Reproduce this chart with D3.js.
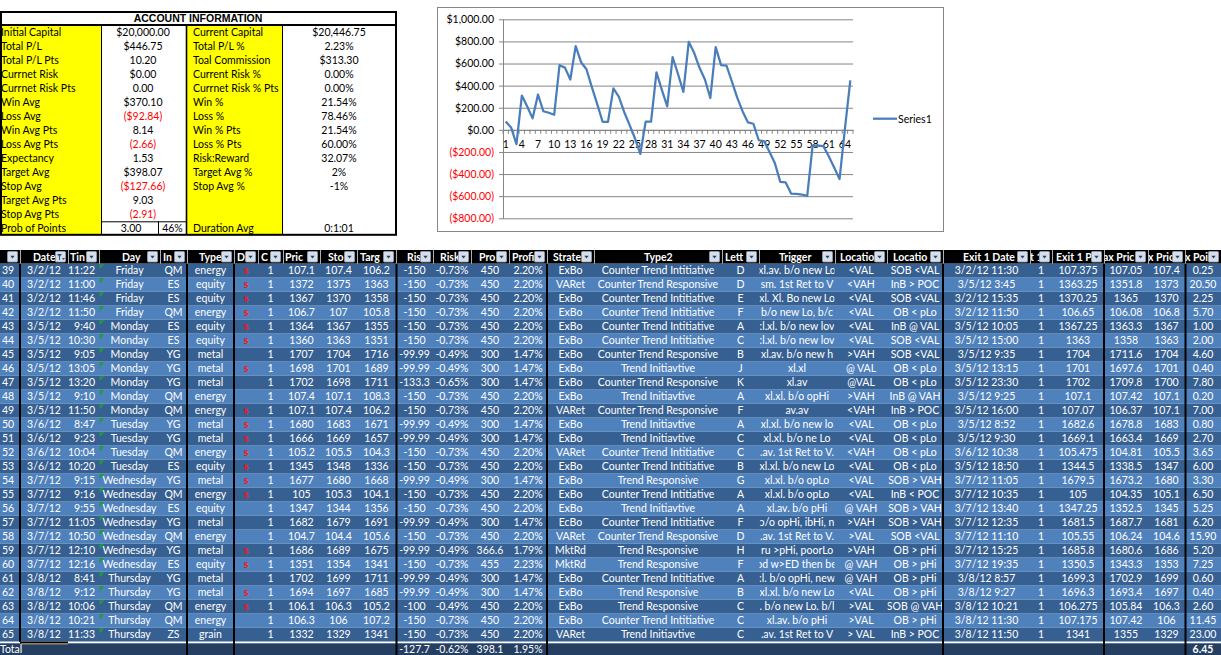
<!DOCTYPE html>
<html><head><meta charset="utf-8">
<script src="https://cdn.jsdelivr.net/npm/d3@7/dist/d3.min.js"></script>
<style>
html,body{margin:0;padding:0;background:#fff;overflow:hidden}
svg{display:block}
</style></head><body>
<svg id="c" width="1221" height="655"></svg>
<script>
// ================= DATA =================
const accTitle = "ACCOUNT INFORMATION";
const accLabelsL = ["Initial Capital","Total P/L","Total P/L Pts","Currnet Risk","Currnet Risk Pts","Win Avg","Loss Avg","Win Avg Pts","Loss Avg Pts","Expectancy","Target Avg","Stop Avg","Target Avg Pts","Stop Avg Pts","Prob of Points"];
const accValuesL = ["$20,000.00","$446.75","10.20","$0.00","0.00","$370.10","($92.84)","8.14","(2.66)","1.53","$398.07","($127.66)","9.03","(2.91)","3.00"];
const accProbPct = "46%";
const accLabelsR = ["Current Capital","Total P/L %","Toal Commission","Current Risk %","Currnet Risk % Pts","Win %","Loss %","Win % Pts","Loss % Pts","Risk:Reward","Target Avg %","Stop Avg %","","","Duration Avg"];
const accValuesR = ["$20,446.75","2.23%","$313.30","0.00%","0.00%","21.54%","78.46%","21.54%","60.00%","32.07%","2%","-1%","","","0:1:01"];

// equity curve (Series1)
const tradeNumbers = [1,2,3,4,5,6,7,8,9,10,11,12,13,14,15,16,17,18,19,20,21,22,23,24,25,26,27,28,29,30,31,32,33,34,35,36,37,38,39,40,41,42,43,44,45,46,47,48,49,50,51,52,53,54,55,56,57,58,59,60,61,62,63,64,65];
const equityValues = [75,22,-130,310,212,104,320,168,155,136,585,563,455,758,612,548,386,232,73,73,375,300,162,45,-76,-218,75,75,521,361,212,658,505,343,795,697,561,455,288,748,585,582,439,291,167,67,55,-94,-103,-200,-303,-470,-476,-576,-579,-585,-597,-143,-143,-148,-239,-340,-445,10,446.75];
const yTickValues = [1000,800,600,400,200,0,-200,-400,-600,-800];
const xTickLabels = [1,4,7,10,13,16,19,22,25,28,31,34,37,40,43,46,49,52,55,58,61,64];
const seriesName = "Series1";

// trade table
const headerLabels = ["","Date","Tin","Day","In","Type","D","C","Pric","Sto","Targ","Ris","Risk","Pro","Profi","Strate","Type2","Lett","Trigger","Locatio","Locatio","Exit 1 Date","t 1","Exit 1 P","ax Pric","x Pric","x Poin"];
const rowNums = [39,40,41,42,43,44,45,46,47,48,49,50,51,52,53,54,55,56,57,58,59,60,61,62,63,64,65];
const dates = ["3/2/12","3/2/12","3/2/12","3/2/12","3/5/12","3/5/12","3/5/12","3/5/12","3/5/12","3/5/12","3/5/12","3/6/12","3/6/12","3/6/12","3/6/12","3/7/12","3/7/12","3/7/12","3/7/12","3/7/12","3/7/12","3/7/12","3/8/12","3/8/12","3/8/12","3/8/12","3/8/12"];
const times = ["11:22","11:00","11:46","11:50","9:40","10:30","9:05","13:05","13:20","9:10","11:50","8:47","9:23","10:04","10:20","9:15","9:16","9:55","11:05","10:50","12:10","12:16","8:41","9:12","10:06","10:21","11:33"];
const days = ["Friday","Friday","Friday","Friday","Monday","Monday","Monday","Monday","Monday","Monday","Monday","Tuesday","Tuesday","Tuesday","Tuesday","Wednesday","Wednesday","Wednesday","Wednesday","Wednesday","Wednesday","Wednesday","Thursday","Thursday","Thursday","Thursday","Thursday"];
const instruments = ["QM","ES","ES","QM","ES","ES","YG","YG","YG","QM","QM","YG","YG","QM","ES","YG","QM","ES","YG","QM","YG","ES","YG","YG","QM","QM","ZS"];
const types = ["energy","equity","equity","energy","equity","equity","metal","metal","metal","energy","energy","metal","metal","energy","equity","metal","energy","equity","metal","energy","metal","equity","metal","metal","energy","energy","grain"];
const directions = ["s","s","s","s","s","s","","s","","","s","s","s","s","s","s","s","","","","s","s","","s","s","",""];
const contracts = [1,1,1,1,1,1,1,1,1,1,1,1,1,1,1,1,1,1,1,1,1,1,1,1,1,1,1];
const prices = ["107.1","1372","1367","106.7","1364","1360","1707","1698","1702","107.4","107.1","1680","1666","105.2","1345","1677","105","1347","1682","104.7","1686","1351","1702","1694","106.1","106.3","1332"];
const stops = ["107.4","1375","1370","107","1367","1363","1704","1701","1698","107.1","107.4","1683","1669","105.5","1348","1680","105.3","1344","1679","104.4","1689","1354","1699","1697","106.3","106","1329"];
const targets = ["106.2","1363","1358","105.8","1355","1351","1716","1689","1711","108.3","106.2","1671","1657","104.3","1336","1668","104.1","1356","1691","105.6","1675","1341","1711","1685","105.2","107.2","1341"];
const risks = ["-150","-150","-150","-150","-150","-150","-99.99","-99.99","-133.3","-150","-150","-99.99","-99.99","-150","-150","-99.99","-150","-150","-99.99","-150","-99.99","-150","-99.99","-99.99","-100","-150","-150"];
const riskPcts = ["-0.73%","-0.73%","-0.73%","-0.73%","-0.73%","-0.73%","-0.49%","-0.49%","-0.65%","-0.73%","-0.73%","-0.49%","-0.49%","-0.73%","-0.73%","-0.49%","-0.73%","-0.73%","-0.49%","-0.73%","-0.49%","-0.73%","-0.49%","-0.49%","-0.49%","-0.73%","-0.73%"];
const profits = ["450","450","450","450","450","450","300","300","300","450","450","300","300","450","450","300","450","450","300","450","366.6","455","300","300","450","450","450"];
const profitPcts = ["2.20%","2.20%","2.20%","2.20%","2.20%","2.20%","1.47%","1.47%","1.47%","2.20%","2.20%","1.47%","1.47%","2.20%","2.20%","1.47%","2.20%","2.20%","1.47%","2.20%","1.79%","2.23%","1.47%","1.47%","2.20%","2.20%","2.20%"];
const strategies = ["ExBo","VARet","ExBo","ExBo","ExBo","ExBo","ExBo","ExBo","ExBo","ExBo","VARet","ExBo","ExBo","VARet","ExBo","ExBo","ExBo","ExBo","EcBo","VARet","MktRd","MktRd","ExBo","ExBo","ExBo","ExBo","VARet"];
const types2 = ["Counter Trend Intitiative","Counter Trend Responsive","Counter Trend Intitiative","Counter Trend Intitiative","Counter Trend Intitiative","Counter Trend Intitiative","Counter Trend Responsive","Trend Initiavtive","Counter Trend Responsive","Trend Initiavtive","Counter Trend Responsive","Trend Initiavtive","Trend Initiavtive","Counter Trend Intitiative","Counter Trend Intitiative","Trend Responsive","Counter Trend Intitiative","Trend Initiavtive","Counter Trend Intitiative","Counter Trend Responsive","Trend Responsive","Trend Responsive","Counter Trend Intitiative","Trend Responsive","Trend Responsive","Counter Trend Intitiative","Trend Initiavtive"];
const letters = ["D","D","E","F","A","C","B","J","K","A","F","A","C","C","B","G","A","A","F","D","H","F","A","B","C","C","C"];
const triggers = ["xl.av. b/o new Lo","sm. 1st Ret to V","xl. Xl. Bo new Lo","b/o new Lo, b/c",":l.xl. b/o new lov",":l.xl. b/o new lov","xl.av. b/o new h","xl.xl","xl.av","xl.xl. b/o opHi","av.av","xl.xl. b/o new lo","xl.xl. b/o ne Lo",".av. 1st Ret to V.","xl.xl. b/o new Lo","xl.xl. b/o opLo","xl.xl. b/o opLo","xl.av. b/o pHi","\u0254/o opHi, ibHi, n",".av. 1st Ret to V.","ru >pHi, poorLo","\u0254d w>ED then be",":l. b/o opHi, new","xl.xl. b/o new Lo",". b/o new Lo. b/l","xl.av. b/o pHi",".av. 1st Ret to V"];
const locations1 = ["<VAL","<VAH","<VAL","<VAL","<VAL","<VAL",">VAH","@ VAL","@VAL",">VAH","<VAH","<VAL","<VAL","<VAH","<VAL","<VAL","<VAL","@ VAH",">VAH",">VAL",">VAH","@ VAH","@ VAH","<VAL",">VAL",">VAL","> VAL"];
const locations2 = ["SOB <VAL","InB > POC","SOB <VAL","OB < pLo","InB @ VAL","SOB <VAL","SOB <VAL","OB < pLo","OB < pLo","InB @ VAH","InB > POC","OB < pLo","OB < pLo","OB < pLo","OB < pLo","SOB > VAH","InB < POC","SOB > VAH","SOB > VAH","SOB <VAL","OB > pHi","OB > pHi","OB > pHi","OB > pHi","SOB @ VAH","OB > pHi","InB > POC"];
const exitDates = ["3/2/12 11:30","3/5/12 3:45","3/2/12 15:35","3/2/12 11:50","3/5/12 10:05","3/5/12 15:00","3/5/12 9:35","3/5/12 13:15","3/5/12 23:30","3/5/12 9:25","3/5/12 16:00","3/5/12 8:52","3/5/12 9:30","3/6/12 10:38","3/5/12 18:50","3/7/12 11:05","3/7/12 10:35","3/7/12 13:40","3/7/12 12:35","3/7/12 11:10","3/7/12 15:25","3/7/12 19:35","3/8/12 8:57","3/8/12 9:27","3/8/12 10:21","3/8/12 11:30","3/8/12 11:50"];
const exitQtys = [1,1,1,1,1,1,1,1,1,1,1,1,1,1,1,1,1,1,1,1,1,1,1,1,1,1,1];
const exitPrices = ["107.375","1363.25","1370.25","106.65","1367.25","1363","1704","1701","1702","107.1","107.07","1682.6","1669.1","105.475","1344.5","1679.5","105","1347.25","1681.5","105.55","1685.8","1350.5","1699.3","1696.3","106.275","107.175","1341"];
const maxPrices = ["107.05","1351.8","1365","106.08","1363.3","1358","1711.6","1697.6","1709.8","107.42","106.37","1678.8","1663.4","104.81","1338.5","1673.2","104.35","1352.5","1687.7","106.24","1680.6","1343.3","1702.9","1693.4","105.84","107.42","1355"];
const minPrices = ["107.4","1373","1370","106.8","1367","1363","1704","1701","1700","107.1","107.1","1683","1669","105.5","1347","1680","105.1","1345","1681","104.6","1686","1353","1699","1697","106.3","106","1329"];
const maxPoints = ["0.25","20.50","2.25","5.70","1.00","2.00","4.60","0.40","7.80","0.20","7.00","0.80","2.70","3.65","6.00","3.30","6.50","5.25","6.20","15.90","5.20","7.25","0.60","0.40","2.60","11.45","23.00"];
const totalLabel = "Total";
const totals = {11:"-127.7", 12:"-0.62%", 13:"398.1", 14:"1.95%", 26:"6.45"};

// ================= LAYOUT =================
const FONT = "Lato, 'Open Sans', sans-serif";
const svg = d3.select("#c");
svg.append("rect").attr("width",1221).attr("height",655).attr("fill","#fff");

// ---------- Account information ----------
const acc = svg.append("g").attr("font-family", FONT).attr("font-size", 10.5);
const accY = d3.scaleBand().domain(d3.range(accLabelsL.length)).range([25.3, 235.3]);
const mid = i => accY(i) + accY.bandwidth()/2 + 3.7;
acc.append("rect").attr("x",0).attr("y",25.3).attr("width",101.5).attr("height",210).attr("fill","#FFFF00");
acc.append("rect").attr("x",187).attr("y",25.3).attr("width",95.5).attr("height",210).attr("fill","#FFFF00");
acc.append("text").attr("x",198).attr("y",21.5).attr("text-anchor","middle")
  .attr("font-family","'Liberation Sans', Arial, sans-serif").attr("font-weight","bold").attr("font-size",10.5)
  .text(accTitle);
acc.selectAll("text.ll").data(accLabelsL).join("text").attr("class","ll")
  .attr("x",1).attr("y",(d,i)=>mid(i)).attr("fill","#000").text(d=>d);
acc.selectAll("text.lv").data(accValuesL).join("text").attr("class","lv")
  .attr("x",(d,i)=> i===accValuesL.length-1 ? 131 : 143).attr("y",(d,i)=>mid(i))
  .attr("text-anchor","middle").attr("fill",d=>d.startsWith("(")?"#FF0000":"#000").text(d=>d);
acc.append("text").attr("x",172.5).attr("y",mid(accValuesL.length-1)).attr("text-anchor","middle").text(accProbPct);
acc.selectAll("text.rl").data(accLabelsR).join("text").attr("class","rl")
  .attr("x",193).attr("y",(d,i)=>mid(i)).text(d=>d);
acc.selectAll("text.rv").data(accValuesR).join("text").attr("class","rv")
  .attr("x",339).attr("y",(d,i)=>mid(i)).attr("text-anchor","middle")
  .attr("fill",d=>d.startsWith("(")?"#FF0000":"#000").text(d=>d);
// borders
acc.append("line").attr("x1",0).attr("x2",397).attr("y1",25).attr("y2",25).attr("stroke","#000").attr("stroke-width",2);
acc.append("line").attr("x1",101.5).attr("x2",101.5).attr("y1",25).attr("y2",235).attr("stroke","#000").attr("stroke-width",1);
acc.append("line").attr("x1",186.5).attr("x2",186.5).attr("y1",25).attr("y2",235).attr("stroke","#000").attr("stroke-width",1.6);
acc.append("line").attr("x1",282.5).attr("x2",282.5).attr("y1",25).attr("y2",235).attr("stroke","#000").attr("stroke-width",1);
acc.append("line").attr("x1",101.5).attr("x2",186.5).attr("y1",accY(accLabelsL.length-1)+0.5).attr("y2",accY(accLabelsL.length-1)+0.5).attr("stroke","#000");
acc.append("line").attr("x1",158.5).attr("x2",158.5).attr("y1",accY(accLabelsL.length-1)).attr("y2",235).attr("stroke","#000");
acc.append("rect").attr("x",1).attr("y",12).attr("width",395).attr("height",222.8)
  .attr("fill","none").attr("stroke","#000").attr("stroke-width",2);

// ---------- Chart ----------
const ch = svg.append("g").attr("font-family", FONT).attr("font-size", 10.5);
ch.append("rect").attr("x",437.5).attr("y",7.5).attr("width",506).attr("height",224)
  .attr("fill","#fff").attr("stroke","#868686").attr("stroke-width",1);
const xS = d3.scaleBand().domain(tradeNumbers).range([503,853]);
const yS = d3.scaleLinear().domain([-800,1000]).range([218.3,19.3]);
const money = v => v < 0 ? "($" + d3.format(",.2f")(-v) + ")" : "$" + d3.format(",.2f")(v);

const gy = ch.append("g").attr("transform","translate(503,0)")
  .call(d3.axisLeft(yS).tickValues(yTickValues).tickSizeInner(-350).tickSizeOuter(0).tickPadding(9).tickFormat(money));
gy.select(".domain").attr("stroke","#868686");
gy.selectAll(".tick line").attr("stroke","#868686");
gy.selectAll(".tick text").attr("font-family",FONT).attr("font-size",10.5)
  .attr("fill",d=> d<0 ? "#FF0000" : "#000");
const gy2 = ch.append("g").attr("transform","translate(503,0)")
  .call(d3.axisLeft(yS).tickValues(yTickValues).tickSize(4).tickFormat(""));
gy2.select(".domain").remove();
gy2.selectAll(".tick line").attr("stroke","#868686");

// x axis at zero
const y0 = yS(0);
const gx = ch.append("g").attr("transform",`translate(0,${y0})`)
  .call(d3.axisBottom(xS).tickValues(xTickLabels).tickSize(0).tickPadding(11));
gx.select(".domain").attr("stroke","#868686");
gx.selectAll(".tick text").attr("font-family",FONT).attr("font-size",10.5).attr("fill","#000");
const edges = tradeNumbers.map(d => xS(d)).concat([xS.range()[1]]);
ch.append("g").selectAll("line").data(edges).join("line")
  .attr("x1",d=>d).attr("x2",d=>d).attr("y1",y0).attr("y2",y0+4).attr("stroke","#868686");

const line = d3.line().x((d,i)=>xS(tradeNumbers[i]) + xS.bandwidth()/2).y(d=>yS(d));
ch.append("path").datum(equityValues).attr("d",line).attr("fill","none")
  .attr("stroke","#4A7EBB").attr("stroke-width",2.25).attr("stroke-linejoin","round");

// legend
ch.append("line").attr("x1",873).attr("x2",897).attr("y1",118.7).attr("y2",118.7).attr("stroke","#4A7EBB").attr("stroke-width",2.25);
ch.append("text").attr("x",898).attr("y",122.5).attr("fill","#000").text(seriesName);

// ---------- Trade table ----------
const colEdges = [0,20,68,99,160,187,234,258,283,320,357,396,433,471,509,547,594,722,759,835,887,943,1030,1052,1104,1148,1185,1221];
const headX = [null,33,70,122,163,199,237,261,285,328,360,407,440,479,512,553,644,725,779,840,893,963,1030,1056,1103,1148,1185];
const columns = [rowNums,dates,times,days,instruments,types,directions,contracts,prices,stops,targets,risks,riskPcts,profits,profitPcts,strategies,types2,letters,triggers,locations1,locations2,exitDates,exitQtys,exitPrices,maxPrices,minPrices,maxPoints];
const colAlign = columns.map((c,i)=> i===0 ? "start" : (i===2 ? "end" : "middle"));

const HEAD_TOP = 250, HEAD_BOT = 263.7;
const rowY = d3.scaleBand().domain(rowNums).range([HEAD_BOT, HEAD_BOT + 14*rowNums.length]);
const tableBottom = rowY.range()[1];
const TOTAL_TOP = tableBottom + 1.6;

const defs = svg.append("defs");
colEdges.slice(0,-1).forEach((x,i)=>{
  defs.append("clipPath").attr("id","cc"+i).append("rect")
    .attr("x",x+0.5).attr("y",HEAD_TOP).attr("width",colEdges[i+1]-x-1).attr("height",655-HEAD_TOP);
});

const tb = svg.append("g").attr("font-family", FONT).attr("font-size", 10.5);
tb.append("rect").attr("x",0).attr("y",HEAD_TOP).attr("width",1221).attr("height",HEAD_BOT-HEAD_TOP).attr("fill","#000");
tb.selectAll("rect.row").data(rowNums).join("rect").attr("class","row")
  .attr("x",0).attr("y",d=>rowY(d)).attr("width",1221).attr("height",rowY.bandwidth())
  .attr("fill",(d,i)=> i%2===0 ? "#376092" : "#4F81BD");
tb.append("rect").attr("x",0).attr("y",tableBottom).attr("width",1221).attr("height",655-tableBottom).attr("fill","#FFFFFF");
tb.append("rect").attr("x",0).attr("y",TOTAL_TOP).attr("width",1221).attr("height",655-TOTAL_TOP).attr("fill","#243F62");

tb.selectAll("line.hs").data(colEdges.slice(1,-1)).join("line").attr("class","hs")
  .attr("x1",d=>d+0.5).attr("x2",d=>d+0.5).attr("y1",HEAD_TOP).attr("y2",HEAD_BOT).attr("stroke","#d9d9d9").attr("stroke-width",0.8);

headerLabels.forEach((h,i)=>{
  if(!h) return;
  tb.append("text").attr("clip-path",`url(#cc${i})`)
    .attr("x",headX[i]).attr("y",HEAD_BOT-3.2).attr("fill","#fff").attr("font-weight","bold").text(h);
});
const btnG = tb.append("g");
colEdges.slice(1).forEach((r,i)=>{
  const bx = r-12.5, by = HEAD_TOP+1.5;
  btnG.append("rect").attr("x",bx).attr("y",by).attr("width",10).attr("height",10.5)
    .attr("fill","#D6DEEA").attr("stroke","#8FA0B8").attr("stroke-width",0.8).attr("rx",1);
  if(i===1){
    btnG.append("path").attr("d",`M${bx+1.5},${by+2.5} h5 l-2,2.5 v3 l-1,0.8 v-3.8 z`).attr("fill","#2F4F7F");
    btnG.append("path").attr("d",`M${bx+6.5},${by+6.5} h3 l-1.5,2 z`).attr("fill","#2F4F7F");
  } else {
    btnG.append("path").attr("d",`M${bx+2.8},${by+4.3} h4.4 l-2.2,2.6 z`).attr("fill","#243F62");
  }
});

columns.forEach((col,ci)=>{
  const x0 = colEdges[ci], x1 = colEdges[ci+1];
  const tx = colAlign[ci]==="start" ? x0+2 : colAlign[ci]==="end" ? x1-4 : (x0+x1)/2;
  tb.append("g").attr("clip-path",`url(#cc${ci})`).selectAll("text").data(col).join("text")
    .attr("x",tx).attr("y",(d,i)=>rowY(rowNums[i])+10.6)
    .attr("text-anchor",colAlign[ci])
    .attr("fill", ci===6 ? "#FF1010" : "#fff")
    .attr("font-weight", ci===6 ? "bold" : "normal")
    .attr("font-size", ci===6 ? 10.5 : 10.5)
    .text(d=>d);
});
tb.append("g").selectAll("path").data(rowNums).join("path")
  .attr("d",d=>`M${colEdges[3]+0.5},${rowY(d)+0.5} h5 l-5,5 z`).attr("fill","#1E9B3C");

tb.append("text").attr("x",0).attr("y",TOTAL_TOP+9.5).attr("fill","#fff").text(totalLabel);
Object.entries(totals).forEach(([ci,v])=>{
  ci = +ci;
  tb.append("text").attr("x",(colEdges[ci]+colEdges[ci+1])/2).attr("y",TOTAL_TOP+9.5)
    .attr("text-anchor","middle").attr("fill","#fff").attr("font-weight", ci===26 ? "bold":"normal").text(v);
});

const thick = [20,187,234,396.5,547,943,1104,1185.5];
tb.selectAll("line.tk").data(thick).join("line").attr("class","tk")
  .attr("x1",d=>d).attr("x2",d=>d).attr("y1",HEAD_BOT).attr("y2",d=> d===20 ? tableBottom : 655)
  .attr("stroke","#000").attr("stroke-width",2);
tb.append("line").attr("x1",20).attr("x2",68).attr("y1",tableBottom+0.8).attr("y2",tableBottom+0.8).attr("stroke","#000").attr("stroke-width",2);
tb.append("line").attr("x1",21).attr("x2",68).attr("y1",tableBottom+2.2).attr("y2",tableBottom+2.2).attr("stroke","#C9A86A").attr("stroke-width",1);
</script>
</body></html>
